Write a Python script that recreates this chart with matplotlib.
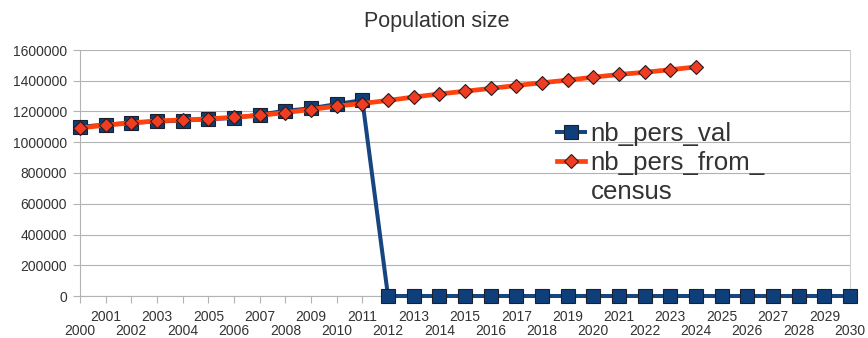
import matplotlib.pyplot as plt
from matplotlib.lines import Line2D
from matplotlib.ticker import MultipleLocator, FixedLocator

plt.rcParams["font.family"] = ["Liberation Sans", "DejaVu Sans"]

# yearly series
years_val = list(range(2000, 2031))
nb_pers_val = [1100000, 1115000, 1126000, 1135000, 1141000, 1150000,
               1158000, 1180000, 1204000, 1221000, 1248000, 1274000,
               0, 0, 0, 0, 0, 0, 0, 0, 0, 0, 0, 0, 0, 0, 0, 0, 0, 0, 0]

years_census = list(range(2000, 2025))
nb_pers_from_census = [1093000, 1111000, 1126000, 1139000, 1145000, 1152000,
                       1163000, 1174000, 1193000, 1213000, 1235000, 1252000,
                       1272000, 1294000, 1314000, 1332000, 1350000, 1369000,
                       1387000, 1404000, 1423000, 1441000, 1455000, 1472000,
                       1490000]

blue = "#0f3f7a"
red = "#ff420e"
grid_col = "#b3b3b3"
txt_col = "#333333"

fig = plt.figure(figsize=(8.68, 3.38), dpi=100)
ax = fig.add_axes([80 / 868, 1 - 296 / 338, 770 / 868, 246 / 338])

l1, = ax.plot(years_val, nb_pers_val, color="#16457f", lw=2.9,
              marker="s", markersize=10, markerfacecolor=blue,
              markeredgecolor="#1b1f2e", markeredgewidth=0.8,
              clip_on=False, zorder=3)
l2, = ax.plot(years_census, nb_pers_from_census, color=red, lw=3.4,
              marker="D", markersize=7.2, markerfacecolor="#f03c22",
              markeredgecolor="#2a1a1a", markeredgewidth=0.8,
              clip_on=False, zorder=4)

ax.set_xlim(2000, 2030)
ax.set_ylim(0, 1600000)
ax.yaxis.set_major_locator(MultipleLocator(200000))
ax.yaxis.set_major_formatter(lambda v, p: f"{int(v)}")

# even years on the lower row, odd years on the upper row
ax.xaxis.set_major_locator(FixedLocator(range(2000, 2031, 2)))
ax.xaxis.set_minor_locator(FixedLocator(range(2001, 2031, 2)))
ax.set_xticklabels([str(y) for y in range(2000, 2031, 2)])
ax.set_xticklabels([str(y) for y in range(2001, 2031, 2)], minor=True)
ax.tick_params(axis="x", which="major", length=5, width=0.8, color=grid_col,
               pad=15.3, labelsize=10, labelcolor=txt_col)
ax.tick_params(axis="x", which="minor", length=5, width=0.8, color=grid_col,
               pad=5, labelsize=10, labelcolor=txt_col)
ax.tick_params(axis="y", length=5, width=0.8, color=grid_col, pad=4.5,
               labelsize=10, labelcolor=txt_col)

ax.grid(axis="y", color=grid_col, lw=0.8)
ax.set_axisbelow(True)
for side in ["left", "bottom", "right"]:
    ax.spines[side].set_color(grid_col)
    ax.spines[side].set_linewidth(0.8)
ax.spines["right"].set_color("#d0d0d0")
ax.spines["top"].set_visible(False)

fig.text(437 / 868, 1 - 21 / 338, "Population size", ha="center",
         va="center", fontsize=15.5, color=txt_col)

# long label wraps onto a second line
spacer = Line2D([], [], linestyle="none")
fig.legend([l1, l2, spacer], ["nb_pers_val", "nb_pers_from_", "census"],
           loc="upper left", bbox_to_anchor=(557 / 868, 1 - 122 / 338),
           frameon=False, fontsize=18.6, borderpad=0, borderaxespad=0,
           handlelength=1.1, handletextpad=0.2, labelspacing=0.2,
           labelcolor=txt_col)

fig.savefig("out.png", dpi=100)
